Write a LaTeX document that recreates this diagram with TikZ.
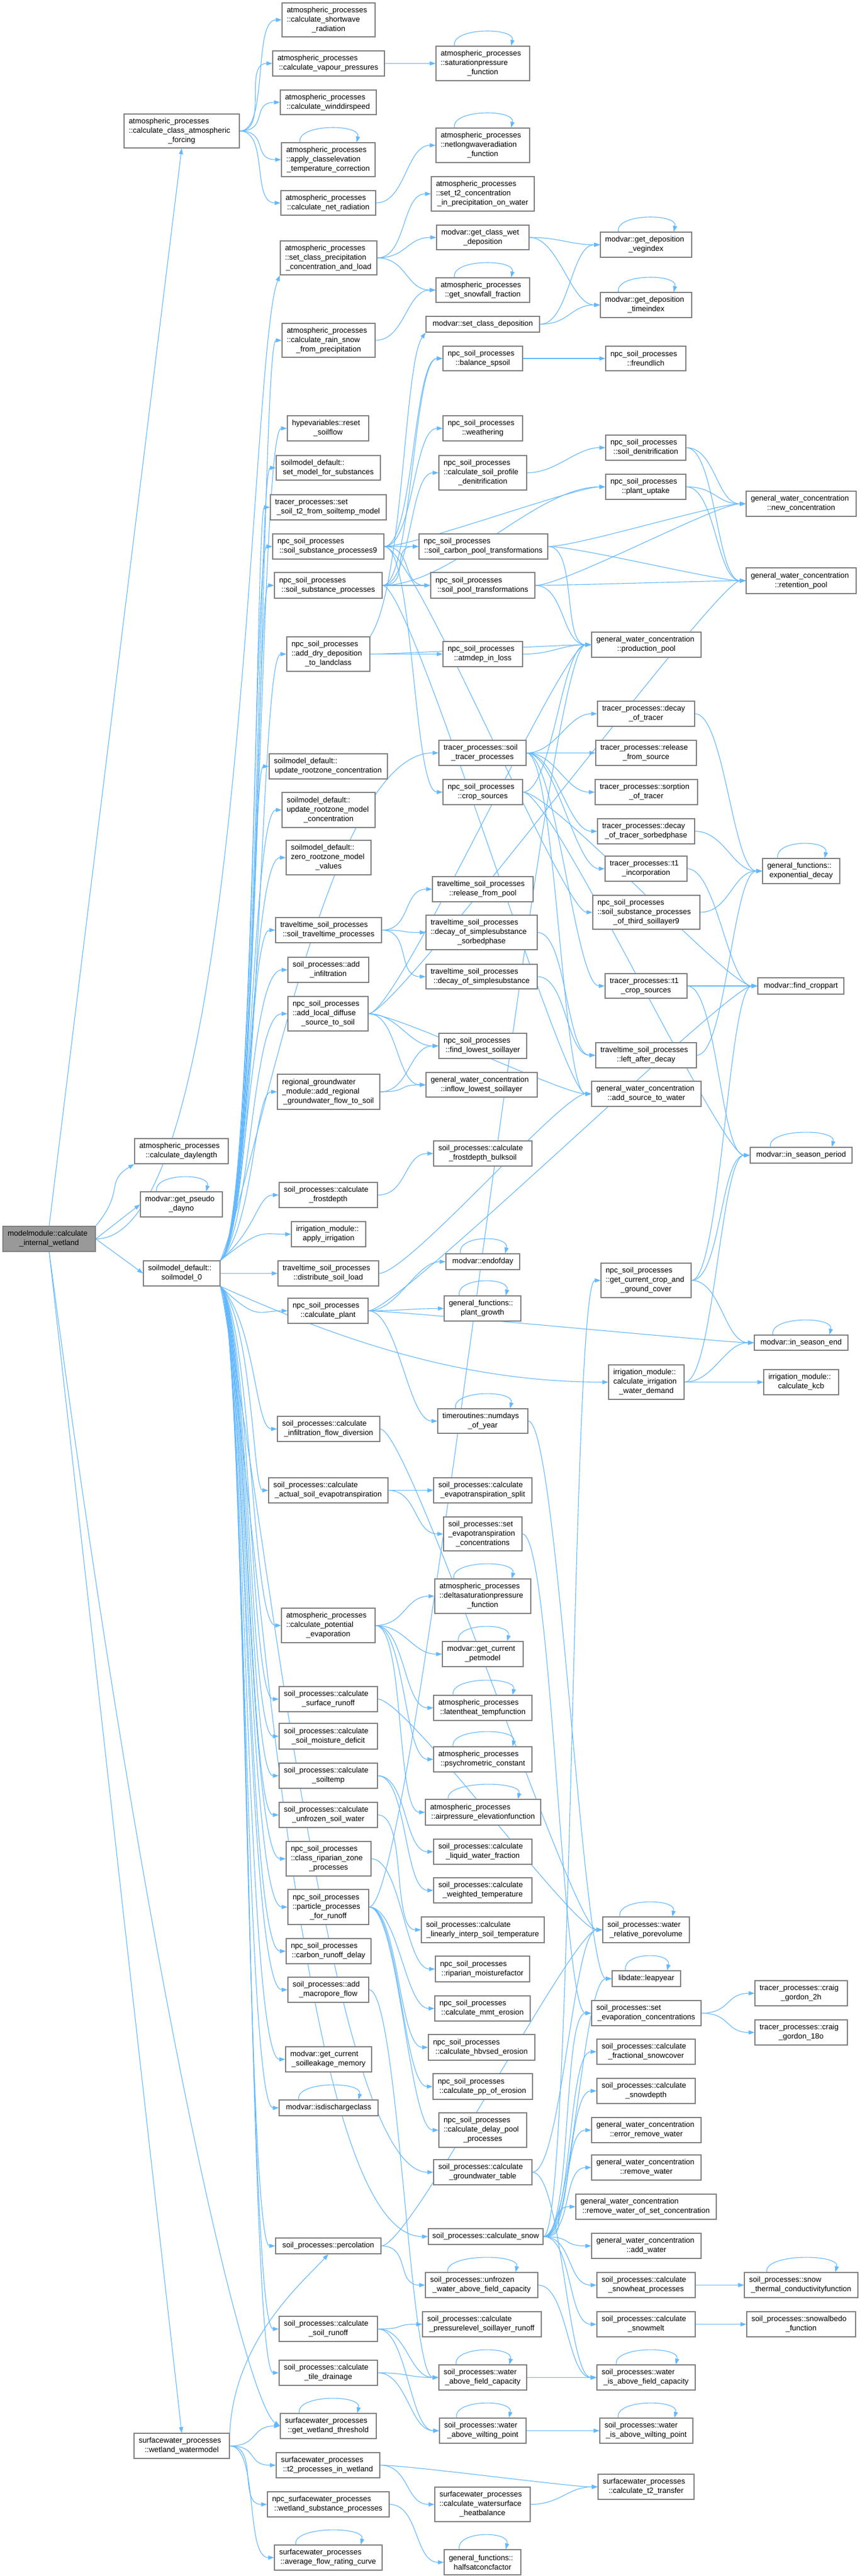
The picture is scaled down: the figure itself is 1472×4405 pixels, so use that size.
\documentclass[tikz,border=0pt]{standalone}
\usepackage{fontspec}
\setmainfont{Liberation Sans}
\usetikzlibrary{arrows.meta,calc}
\definecolor{edgec}{HTML}{63B8FF}
\definecolor{boxc}{HTML}{808080}
\definecolor{mfill}{HTML}{999999}
\pgfdeclarelayer{bg}\pgfsetlayers{bg,main}
\newcommand\cl[1]{\makebox[\linewidth]{#1}}
\newcommand\nb[7][]{%
\pgfmathsetmacro\nbw{#4-#3}\pgfmathsetmacro\nbh{#6-#5}\pgfmathsetmacro\nbt{#4-#3-16}%
\pgfmathsetmacro\nbx{(#3+#4)/2}\pgfmathsetmacro\nby{(#5+#6)/2}%
\node[bx,#1,minimum width=\nbw pt,minimum height=\nbh pt,text width=\nbt pt] (#2) at (\nbx,\nby) {#7};}
\newcommand\ee[3][50]{\draw[e] (#2.east) .. controls +(#1,0) and +(-#1,0) .. (#3.west);}
\newcommand\eu[2]{\draw[e] (S0.north east) .. controls (#2,2100) and (#2,0 |- #1.west) .. (#1.west);}
\newcommand\ea[2]{\draw[e] (S0.south east) .. controls (#2,2260) and (#2,0 |- #1.west) .. (#1.west);}
\newcommand\lo[1]{\draw[e] ($(#1.north west)!0.2!(#1.north east)$) .. controls +(-6,-32) and +(8,-32) .. ($(#1.north west)!0.8!(#1.north east)$);}
\catcode`\_=12
\begin{document}
\hyphenpenalty=10000 \exhyphenpenalty=10000 \lefthyphenmin=62
\begin{tikzpicture}[x=1pt,y=-1pt,
 e/.style={draw=edgec,line width=1.1pt,-{Triangle[length=10pt,width=7pt]}},
 bx/.style={draw=boxc,line width=1.3pt,fill=white,inner sep=0pt,align=left,
   font=\fontsize{13pt}{16pt}\selectfont}]
\useasboundingbox (0,0) rectangle (1472,4405);
% column 0-1
\nb[fill=mfill]{M}{5}{163}{2097}{2140}{modelmodule::calculate\\\cl{_internal_wetland}}
\nb{CCAF}{212}{409}{195}{253}{atmospheric_processes\\::calculate_class_atmospheric\\\cl{_forcing}}
\nb{DAYL}{230}{390}{1947}{1990}{atmospheric_processes\\\cl{::calculate_daylength}}
\nb{PSEUDO}{240}{380}{2038}{2081}{modvar::get_pseudo\\\cl{_dayno}}
\nb{S0}{245}{376}{2156}{2199}{soilmodel_default::\\\cl{soilmodel_0}}
\nb{WW}{229}{392}{4161}{4204}{surfacewater_processes\\\cl{::wetland_watermodel}}
% column 3
\nb{SW}{482}{641}{5}{63}{atmospheric_processes\\::calculate_shortwave\\\cl{_radiation}}
\nb{VP}{466}{657}{87}{130}{atmospheric_processes\\\cl{::calculate_vapour_pressures}}
\nb{WD}{479}{643}{154}{196}{atmospheric_processes\\\cl{::calculate_winddirspeed}}
\nb{ACE}{481}{641}{244}{302}{atmospheric_processes\\::apply_classelevation\\\cl{_temperature_correction}}
\nb{NR}{480}{642}{326}{368}{atmospheric_processes\\\cl{::calculate_net_radiation}}
\nb{SCP}{479}{644}{412}{470}{atmospheric_processes\\::set_class_precipitation\\\cl{_concentration_and_load}}
\nb{RS}{482}{641}{553}{611}{atmospheric_processes\\::calculate_rain_snow\\\cl{_from_precipitation}}
\nb{RSF}{491}{630}{711}{754}{hypevariables::reset\\\cl{_soilflow}}
\nb{SMS}{472}{650}{779}{821}{soilmodel_default::\\\cl{set_model_for_substances}}
\nb{T2S}{462}{660}{846}{889}{tracer_processes::set\\\cl{_soil_t2_from_soiltemp_model}}
\nb{SSP9}{466}{656}{913}{956}{npc_soil_processes\\\cl{::soil_substance_processes9}}
\nb{SSP}{469}{653}{979}{1023}{npc_soil_processes\\\cl{::soil_substance_processes}}
\nb{ADD}{490}{632}{1089}{1148}{npc_soil_processes\\::add_dry_deposition\\\cl{_to_landclass}}
\nb{URC}{460}{662}{1289}{1332}{soilmodel_default::\\\cl{update_rootzone_concentration}}
\nb{URMC}{482}{641}{1355}{1415}{soilmodel_default::\\update_rootzone_model\\\cl{_concentration}}
\nb{ZRMV}{489}{634}{1437}{1496}{soilmodel_default::\\zero_rootzone_model\\\cl{_values}}
\nb{STT}{471}{652}{1569}{1612}{traveltime_soil_processes\\\cl{::soil_traveltime_processes}}
\nb{AINF}{492}{630}{1637}{1680}{soil_processes::add\\\cl{_infiltration}}
\nb{ALD}{492}{629}{1704}{1763}{npc_soil_processes\\::add_local_diffuse\\\cl{_source_to_soil}}
\nb{RGW}{474}{649}{1837}{1897}{regional_groundwater\\_module::add_regional\\\cl{_groundwater_flow_to_soil}}
\nb{CFD}{477}{645}{2022}{2065}{soil_processes::calculate\\\cl{_frostdepth}}
\nb{AIR}{498}{625}{2089}{2132}{irrigation_module::\\\cl{apply_irrigation}}
\nb{DSL}{475}{647}{2156}{2199}{traveltime_soil_processes\\\cl{::distribute_soil_load}}
\nb{CPL}{492}{629}{2220}{2263}{npc_soil_processes\\\cl{::calculate_plant}}
\nb{IFD}{474}{649}{2422}{2465}{soil_processes::calculate\\\cl{_infiltration_flow_diversion}}
\nb{ASE}{459}{663}{2527}{2570}{soil_processes::calculate\\\cl{_actual_soil_evapotranspiration}}
\nb{CPE}{481}{641}{2750}{2809}{atmospheric_processes\\::calculate_potential\\\cl{_evaporation}}
\nb{CSR}{477}{645}{2884}{2927}{soil_processes::calculate\\\cl{_surface_runoff}}
\nb{SMD}{477}{645}{2947}{2991}{soil_processes::calculate\\\cl{_soil_moisture_deficit}}
\nb{CST}{477}{645}{3015}{3058}{soil_processes::calculate\\\cl{_soiltemp}}
\nb{USW}{477}{645}{3082}{3125}{soil_processes::calculate\\\cl{_unfrozen_soil_water}}
\nb{CRZ}{489}{634}{3149}{3208}{npc_soil_processes\\::class_riparian_zone\\\cl{_processes}}
\nb{PPR}{492}{630}{3231}{3291}{npc_soil_processes\\::particle_processes\\\cl{_for_runoff}}
\nb{CRD}{489}{634}{3315}{3358}{npc_soil_processes\\\cl{::carbon_runoff_delay}}
\nb{AMF}{492}{630}{3381}{3424}{soil_processes::add\\\cl{_macropore_flow}}
\nb{GCSM}{488}{635}{3500}{3543}{modvar::get_current\\\cl{_soilleakage_memory}}
\nb{IDC}{477}{646}{3591}{3618}{\cl{modvar::isdischargeclass}}
\nb{PERC}{471}{651}{3827}{3854}{\cl{soil_processes::percolation}}
\nb{CSRO}{477}{645}{3961}{4004}{soil_processes::calculate\\\cl{_soil_runoff}}
\nb{CTD}{477}{645}{4036}{4079}{soil_processes::calculate\\\cl{_tile_drainage}}
\nb{GWTH}{479}{643}{4127}{4170}{surfacewater_processes\\\cl{::get_wetland_threshold}}
\nb{T2W}{472}{649}{4194}{4237}{surfacewater_processes\\\cl{::t2_processes_in_wetland}}
\nb{WSP}{457}{665}{4261}{4304}{npc_surfacewater_processes\\\cl{::wetland_substance_processes}}
\nb{AFRC}{469}{653}{4352}{4395}{surfacewater_processes\\\cl{::average_flow_rating_curve}}
% column 4
\nb{SAT}{745}{905}{79}{138}{atmospheric_processes\\::saturationpressure\\\cl{_function}}
\nb{NLW}{745}{905}{219}{278}{atmospheric_processes\\::netlongwaveradiation\\\cl{_function}}
\nb{T2P}{737}{913}{302}{361}{atmospheric_processes\\::set_t2_concentration\\\cl{_in_precipitation_on_water}}
\nb{GCWD}{746}{904}{385}{427}{modvar::get_class_wet\\\cl{_deposition}}
\nb{SNF}{745}{905}{475}{517}{atmospheric_processes\\\cl{::get_snowfall_fraction}}
\nb{SCD}{728}{922}{541}{568}{\cl{modvar::set_class_deposition}}
\nb{BSP}{757}{893}{592}{634}{npc_soil_processes\\\cl{::balance_spsoil}}
\nb{WEA}{757}{893}{711}{754}{npc_soil_processes\\\cl{::weathering}}
\nb{CSPD}{750}{900}{779}{838}{npc_soil_processes\\::calculate_soil_profile\\\cl{_denitrification}}
\nb{SCPT}{716}{936}{913}{956}{npc_soil_processes\\\cl{::soil_carbon_pool_transformations}}
\nb{SPT}{736}{914}{979}{1023}{npc_soil_processes\\\cl{::soil_pool_transformations}}
\nb{ADL}{757}{893}{1097}{1140}{npc_soil_processes\\\cl{::atmdep_in_loss}}
\nb{STP}{750}{899}{1266}{1309}{tracer_processes::soil\\\cl{_tracer_processes}}
\nb{CS}{757}{893}{1333}{1376}{npc_soil_processes\\\cl{::crop_sources}}
\nb{RFP}{739}{911}{1499}{1542}{traveltime_soil_processes\\\cl{::release_from_pool}}
\nb{DSSS}{728}{918}{1565}{1624}{traveltime_soil_processes\\::decay_of_simplesubstance\\\cl{_sorbedphase}}
\nb{DSS}{728}{918}{1649}{1691}{traveltime_soil_processes\\\cl{::decay_of_simplesubstance}}
\nb{FLS}{750}{900}{1767}{1810}{npc_soil_processes\\\cl{::find_lowest_soillayer}}
\nb{ILS}{728}{918}{1834}{1876}{general_water_concentration\\\cl{::inflow_lowest_soillayer}}
\nb{FDB}{741}{909}{1951}{1994}{soil_processes::calculate\\\cl{_frostdepth_bulksoil}}
\nb{EOD}{762}{888}{2144}{2171}{\cl{modvar::endofday}}
\nb{PG}{759}{890}{2216}{2259}{general_functions::\\\cl{plant_growth}}
\nb{NDY}{748}{902}{2409}{2451}{timeroutines::numdays\\\cl{_of_year}}
\nb{ETS}{741}{909}{2527}{2570}{soil_processes::calculate\\\cl{_evapotranspiration_split}}
\nb{SEC}{758}{892}{2594}{2652}{soil_processes::set\\_evapotranspiration\\\cl{_concentrations}}
\nb{DSP}{743}{907}{2700}{2759}{atmospheric_processes\\::deltasaturationpressure\\\cl{_function}}
\nb{GCP}{756}{894}{2807}{2850}{modvar::get_current\\\cl{_petmodel}}
\nb{LHT}{741}{909}{2899}{2942}{atmospheric_processes\\\cl{::latentheat_tempfunction}}
\nb{PSY}{741}{909}{2987}{3030}{atmospheric_processes\\\cl{::psychrometric_constant}}
\nb{APE}{727}{924}{3077}{3121}{atmospheric_processes\\\cl{::airpressure_elevationfunction}}
\nb{LWF}{741}{909}{3145}{3188}{soil_processes::calculate\\\cl{_liquid_water_fraction}}
\nb{WT}{741}{909}{3211}{3254}{soil_processes::calculate\\\cl{_weighted_temperature}}
\nb{LIST}{720}{930}{3278}{3322}{soil_processes::calculate\\\cl{_linearly_interp_soil_temperature}}
\nb{RMF}{744}{905}{3345}{3389}{npc_soil_processes\\\cl{::riparian_moisturefactor}}
\nb{MMT}{743}{906}{3413}{3456}{npc_soil_processes\\\cl{::calculate_mmt_erosion}}
\nb{HBV}{732}{914}{3479}{3523}{npc_soil_processes\\\cl{::calculate_hbvsed_erosion}}
\nb{PPE}{740}{910}{3546}{3590}{npc_soil_processes\\\cl{::calculate_pp_of_erosion}}
\nb{DPP}{750}{900}{3613}{3672}{npc_soil_processes\\::calculate_delay_pool\\\cl{_processes}}
\nb{GWT}{741}{909}{3693}{3736}{soil_processes::calculate\\\cl{_groundwater_table}}
\nb{CSN}{732}{928}{3811}{3838}{\cl{soil_processes::calculate_snow}}
\nb{UWFC}{727}{919}{3886}{3929}{soil_processes::unfrozen\\\cl{_water_above_field_capacity}}
\nb{PLSR}{722}{925}{3953}{3996}{soil_processes::calculate\\\cl{_pressurelevel_soillayer_runoff}}
\nb{WAFC}{750}{900}{4044}{4087}{soil_processes::water\\\cl{_above_field_capacity}}
\nb{WAWP}{751}{899}{4135}{4178}{soil_processes::water\\\cl{_above_wilting_point}}
\nb{WSHB}{743}{906}{4253}{4312}{surfacewater_processes\\::calculate_watersurface\\\cl{_heatbalance}}
\nb{HSC}{759}{890}{4360}{4403}{general_functions::\\\cl{halfsatconcfactor}}
% column 5
\nb{VEG}{1026}{1182}{397}{440}{modvar::get_deposition\\\cl{_vegindex}}
\nb{TIX}{1026}{1182}{500}{543}{modvar::get_deposition\\\cl{_timeindex}}
\nb{FRE}{1035}{1172}{592}{634}{npc_soil_processes\\\cl{::freundlich}}
\nb{SDN}{1035}{1172}{744}{787}{npc_soil_processes\\\cl{::soil_denitrification}}
\nb{PU}{1035}{1172}{811}{854}{npc_soil_processes\\\cl{::plant_uptake}}
\nb{PP}{1011}{1198}{1081}{1124}{general_water_concentration\\\cl{::production_pool}}
\nb{DOT}{1021}{1187}{1199}{1242}{tracer_processes::decay\\\cl{_of_tracer}}
\nb{RFS}{1018}{1190}{1266}{1309}{tracer_processes::release\\\cl{_from_source}}
\nb{SOT}{1017}{1192}{1333}{1376}{tracer_processes::sorption\\\cl{_of_tracer}}
\nb{DOTS}{1021}{1187}{1400}{1443}{tracer_processes::decay\\\cl{_of_tracer_sorbedphase}}
\nb{T1I}{1034}{1174}{1464}{1507}{tracer_processes::t1\\\cl{_incorporation}}
\nb{SSP3}{1013}{1196}{1531}{1589}{npc_soil_processes\\::soil_substance_processes\\\cl{_of_third_soillayer9}}
\nb{T1C}{1034}{1174}{1665}{1707}{tracer_processes::t1\\\cl{_crop_sources}}
\nb{LAD}{1018}{1190}{1783}{1826}{traveltime_soil_processes\\\cl{::left_after_decay}}
\nb{ASW}{1011}{1198}{1849}{1892}{general_water_concentration\\\cl{::add_source_to_water}}
\nb{GCCG}{1027}{1181}{2160}{2219}{npc_soil_processes\\::get_current_crop_and\\\cl{_ground_cover}}
\nb{CIWD}{1040}{1169}{2334}{2393}{irrigation_module::\\calculate_irrigation\\\cl{_water_demand}}
\nb{WRP}{1030}{1178}{3278}{3322}{soil_processes::water\\\cl{_relative_porevolume}}
\nb{LY}{1046}{1163}{3370}{3397}{\cl{libdate::leapyear}}
\nb{SEV}{1011}{1198}{3421}{3464}{soil_processes::set\\\cl{_evaporation_concentrations}}
\nb{FSC}{1020}{1188}{3487}{3530}{soil_processes::calculate\\\cl{_fractional_snowcover}}
\nb{SND}{1020}{1188}{3554}{3597}{soil_processes::calculate\\\cl{_snowdepth}}
\nb{ERW}{1011}{1198}{3621}{3664}{general_water_concentration\\\cl{::error_remove_water}}
\nb{RW}{1011}{1198}{3685}{3728}{general_water_concentration\\\cl{::remove_water}}
\nb{RWSC}{984}{1224}{3752}{3795}{general_water_concentration\\\cl{::remove_water_of_set_concentration}}
\nb{AW}{1011}{1198}{3819}{3862}{general_water_concentration\\\cl{::add_water}}
\nb{SHP}{1020}{1188}{3886}{3929}{soil_processes::calculate\\\cl{_snowheat_processes}}
\nb{SM}{1020}{1188}{3953}{3996}{soil_processes::calculate\\\cl{_snowmelt}}
\nb{WIFC}{1020}{1188}{4044}{4087}{soil_processes::water\\\cl{_is_above_field_capacity}}
\nb{WIWP}{1025}{1184}{4135}{4178}{soil_processes::water\\\cl{_is_above_wilting_point}}
\nb{CT2}{1022}{1186}{4231}{4274}{surfacewater_processes\\\cl{::calculate_t2_transfer}}
% column 6
\nb{NC}{1275}{1463}{840}{883}{general_water_concentration\\\cl{::new_concentration}}
\nb{RP}{1275}{1463}{971}{1015}{general_water_concentration\\\cl{::retention_pool}}
\nb{ED}{1303}{1435}{1468}{1511}{general_functions::\\\cl{exponential_decay}}
\nb{FCP}{1295}{1442}{1672}{1700}{\cl{modvar::find_croppart}}
\nb{ISP}{1282}{1456}{1962}{1989}{\cl{modvar::in_season_period}}
\nb{ISE}{1289}{1449}{2283}{2309}{\cl{modvar::in_season_end}}
\nb{KCB}{1305}{1433}{2342}{2385}{irrigation_module::\\\cl{calculate_kcb}}
\nb{CG2}{1290}{1448}{3387}{3430}{tracer_processes::craig\\\cl{_gordon_2h}}
\nb{CG18}{1290}{1448}{3454}{3497}{tracer_processes::craig\\\cl{_gordon_18o}}
\nb{STC}{1272}{1466}{3886}{3929}{soil_processes::snow\\\cl{_thermal_conductivityfunction}}
\nb{SAF}{1276}{1462}{3953}{3996}{soil_processes::snowalbedo\\\cl{_function}}
\begin{pgfonlayer}{bg}
\fill[white] (0,0) rectangle (1472,4405);
% modelmodule
\draw[e] (M.north) -- (CCAF.south);
\draw[e] (M.north east) .. controls +(50,-60) and +(-50,30) .. (DAYL.south west);
\draw[e] (M.east) -- (PSEUDO.west);
\draw[e] (M.east) -- (S0.west);
\draw[e] (M.east) .. controls (420,2120) and (425,600) .. (SCP.south west);
\draw[e] (M.south) -- (WW.north);
\draw[e] (M.south) .. controls (250,3400) and (420,4110) .. (GWTH.west);
% atmospheric forcing
\ee{CCAF}{SW}\ee{CCAF}{VP}\ee{CCAF}{WD}\ee{CCAF}{ACE}\ee{CCAF}{NR}
\ee{VP}{SAT}\ee{NR}{NLW}
\ee{SCP}{T2P}\ee{SCP}{GCWD}\ee{SCP}{SNF}\ee{RS}{SNF}
\ee{GCWD}{VEG}\ee{GCWD}{TIX}\ee{SCD}{VEG}\ee{SCD}{TIX}
% soilmodel bundle up
\eu{RS}{446}\eu{RSF}{443}\eu{SMS}{440}\eu{T2S}{437}\eu{SSP9}{434}\eu{SSP}{438}
\eu{ADD}{444}\eu{URC}{432}\eu{URMC}{430}\eu{ZRMV}{428}\eu{STT}{426}\eu{AINF}{424}
\eu{ALD}{430}\eu{RGW}{434}\eu{CFD}{440}\eu{AIR}{446}
\ee{S0}{DSL}
% soilmodel bundle down
\ea{CPL}{440}\ea{IFD}{436}\ea{ASE}{432}\ea{CPE}{430}\ea{CSR}{428}\ea{SMD}{426}
\ea{CST}{425}\ea{USW}{424}\ea{CRZ}{423}\ea{PPR}{422}\ea{CRD}{421}\ea{AMF}{420}
\ea{GCSM}{419}\ea{IDC}{418}\ea{PERC}{420}\ea{CSRO}{422}\ea{CTD}{424}
\draw[e] (S0.north east) .. controls (440,2000) and (560,1287) .. (STP.west);
\draw[e] (S0.south east) .. controls (600,2300) and (800,2363) .. (CIWD.west);
\draw[e] (S0.south east) .. controls (440,2500) and (500,3825) .. (CSN.west);
\draw[e] (S0.south east) .. controls (445,2500) and (560,3714) .. (GWT.west);
% substance processes
\draw[e] (ADD.north east) .. controls (690,1000) and (690,620) .. (SCD.south west);
\ee{ADD}{PP}\ee{ADD}{ADL}\ee{ADL}{PP}
\ee{SSP9}{BSP}\ee{SSP}{BSP}\ee{SSP9}{SCPT}\ee{SSP9}{SPT}\ee{SSP}{SCPT}\ee{SSP}{SPT}
\ee{SSP9}{WEA}\ee{SSP}{CSPD}\ee{SSP9}{PU}\ee[120]{SSP}{PU}
\ee{SSP9}{SSP3}\ee{SSP9}{CS}\ee{SSP}{ASW}
\ee{BSP}{FRE}\ee{CSPD}{SDN}
\ee{SDN}{NC}\ee{SDN}{RP}\ee{PU}{NC}\ee{PU}{RP}
\ee{SCPT}{NC}\ee{SCPT}{RP}\ee{SCPT}{PP}\ee{SPT}{NC}\ee{SPT}{RP}\ee{SPT}{PP}
\ee{CS}{PP}\ee{CS}{FCP}\ee{CS}{ISP}
\ee{STP}{DOT}\ee{STP}{RFS}\ee{STP}{SOT}\ee{STP}{DOTS}\ee{STP}{T1I}\ee{STP}{T1C}\ee{STP}{ASW}
\ee{DOT}{ED}\ee{DOTS}{ED}\ee{SSP3}{ED}\ee{LAD}{ED}
\ee{T1I}{FCP}\ee{T1C}{FCP}\ee{T1C}{ISP}
\ee{STT}{RFP}\ee{STT}{DSSS}\ee{STT}{DSS}\ee{DSSS}{LAD}\ee{DSS}{LAD}
\ee{ALD}{PP}\ee{ALD}{RP}\ee{ALD}{ASW}\ee{ALD}{FLS}\ee{ALD}{ILS}
\ee{RGW}{FLS}\ee{RGW}{ILS}\ee{DSL}{ASW}\ee{CFD}{FDB}
\ee{CPL}{EOD}\ee{CPL}{PG}\ee{CPL}{FCP}\ee{CPL}{ISE}\ee{CPL}{NDY}
\ee{GCCG}{FCP}\ee{GCCG}{ISP}\ee{GCCG}{ISE}
\ee{CIWD}{ISE}\ee{CIWD}{KCB}\ee{CIWD}{ISP}
\ee{NDY}{LY}\ee{IFD}{WRP}\ee{CSR}{WRP}
\ee{ASE}{ETS}\ee{ASE}{SEC}\ee{SEC}{SEV}
\ee{CPE}{DSP}\ee{CPE}{GCP}\ee{CPE}{LHT}\ee{CPE}{PSY}\ee{CPE}{APE}
\ee{CST}{LWF}\ee{CST}{WT}\ee{USW}{LIST}\ee{CRZ}{RMF}
\ee{PPR}{MMT}\ee{PPR}{HBV}\ee{PPR}{PPE}\ee{PPR}{DPP}\ee[80]{PPR}{PP}
\ee{AMF}{WAFC}\ee{PERC}{UWFC}\ee{PERC}{WRP}
\ee{CSRO}{PLSR}\ee{CSRO}{WAFC}\ee{CSRO}{WAWP}\ee{CTD}{WAFC}\ee{CTD}{WAWP}
\ee{GWT}{WIFC}\ee{GWT}{WRP}\ee{UWFC}{WIFC}\ee{WAFC}{WIFC}\ee{WAWP}{WIWP}
\ee{CSN}{RW}\ee{CSN}{RWSC}\ee{CSN}{AW}\ee{CSN}{SHP}\ee{CSN}{SM}\ee{CSN}{FSC}
\ee{CSN}{SND}\ee{CSN}{SEV}\ee{CSN}{ERW}\ee{CSN}{LY}\ee{CSN}{GCCG}
\ee{SEV}{CG2}\ee{SEV}{CG18}\ee{SHP}{STC}\ee{SM}{SAF}
% wetland
\draw[e] (WW.north east) .. controls (400,4000) and (520,3900) .. (PERC.south);
\ee{WW}{GWTH}\ee{WW}{T2W}\ee{WW}{WSP}\ee{WW}{AFRC}
\ee{T2W}{CT2}\ee{T2W}{WSHB}\ee{WSHB}{CT2}\ee{WSP}{HSC}
% self loops
\lo{ACE}\lo{SAT}\lo{NLW}\lo{SNF}\lo{VEG}\lo{TIX}\lo{PSEUDO}\lo{ED}\lo{ISP}\lo{ISE}
\lo{EOD}\lo{PG}\lo{NDY}\lo{DSP}\lo{GCP}\lo{LHT}\lo{PSY}\lo{APE}\lo{WRP}\lo{LY}
\lo{IDC}\lo{GWTH}\lo{AFRC}\lo{UWFC}\lo{WAFC}\lo{WAWP}\lo{WIFC}\lo{WIWP}\lo{STC}\lo{HSC}
\end{pgfonlayer}
\end{tikzpicture}
\end{document}
